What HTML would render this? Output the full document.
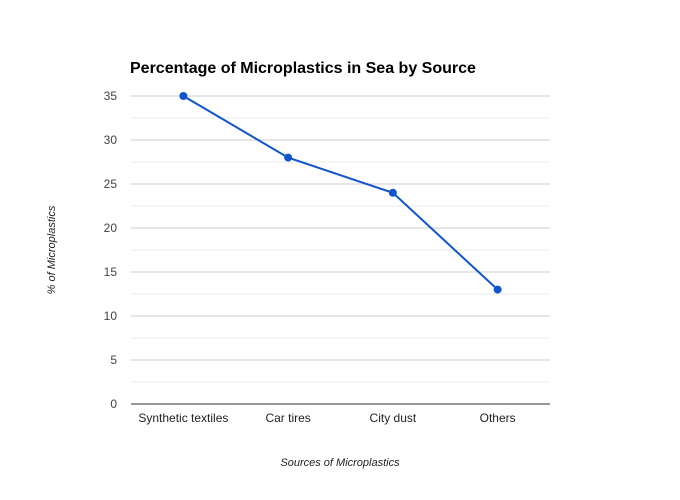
<!DOCTYPE html>
<html><head><meta charset="utf-8"><style>
body{margin:0;background:#fff;}
svg{display:block;font-family:"Liberation Sans",Arial,sans-serif;}
</style></head><body>
<svg id="chart" width="680" height="500">
<rect width="680" height="500" fill="#fff"/>
<text x="130" y="73" font-size="16" font-weight="bold" fill="#000">Percentage of Microplastics in Sea by Source</text>
<g id="grid"></g><g id="yticks"></g><g id="xticks"></g><g id="series"></g>
<text transform="translate(55,250) rotate(-90)" text-anchor="middle" font-size="11" font-style="italic" fill="#222">% of Microplastics</text>
<text x="340" y="466" text-anchor="middle" font-size="11" font-style="italic" fill="#222">Sources of Microplastics</text>
</svg>
<script>
const categories=["Synthetic textiles","Car tires","City dust","Others"];
const values=[35,28,24,13];
const yTicks=[0,5,10,15,20,25,30,35];
const NS="http://www.w3.org/2000/svg";
const L=131,R=550,T=96,B=404,yMax=35;
function y(v){return B-(v/yMax)*(B-T);}
function x(i){const bw=(R-L)/categories.length;return L+bw*(i+0.5);}
function mk(t,a,p){const e=document.createElementNS(NS,t);for(const k in a)e.setAttribute(k,a[k]);p.appendChild(e);return e;}
const grid=document.getElementById('grid'),yt=document.getElementById('yticks'),xt=document.getElementById('xticks'),s=document.getElementById('series');
for(let i=0;i<yTicks.length;i++){
 const v=yTicks[i];
 const g=mk('line',{x1:L,x2:R,y1:y(v),y2:y(v),stroke:v===0?'#333':'#ccc','stroke-width':1},grid);
 
 
 if(i<yTicks.length-1){
  const m=(v+yTicks[i+1])/2;
  const mg=mk('line',{x1:L,x2:R,y1:y(m),y2:y(m),stroke:'#ebebeb','stroke-width':1},grid);
  
  
 }
 const t=mk('text',{x:117,y:y(v)+4,'text-anchor':'end','font-size':12,fill:'#444'},yt);
 t.textContent=v;
 
 
}
categories.forEach((c,i)=>{
 const t=mk('text',{x:x(i),y:422,'text-anchor':'middle','font-size':12,fill:'#222'},xt);
 t.textContent=c;
 
 
});
const pl=mk('polyline',{points:values.map((v,i)=>x(i)+','+y(v)).join(' '),fill:'none',stroke:'#1155cc','stroke-width':2},s);


values.forEach((v,i)=>{
 const c=mk('circle',{cx:x(i),cy:y(v),r:4,fill:'#1155cc'},s);
 
 
});
</script>
</body></html>
